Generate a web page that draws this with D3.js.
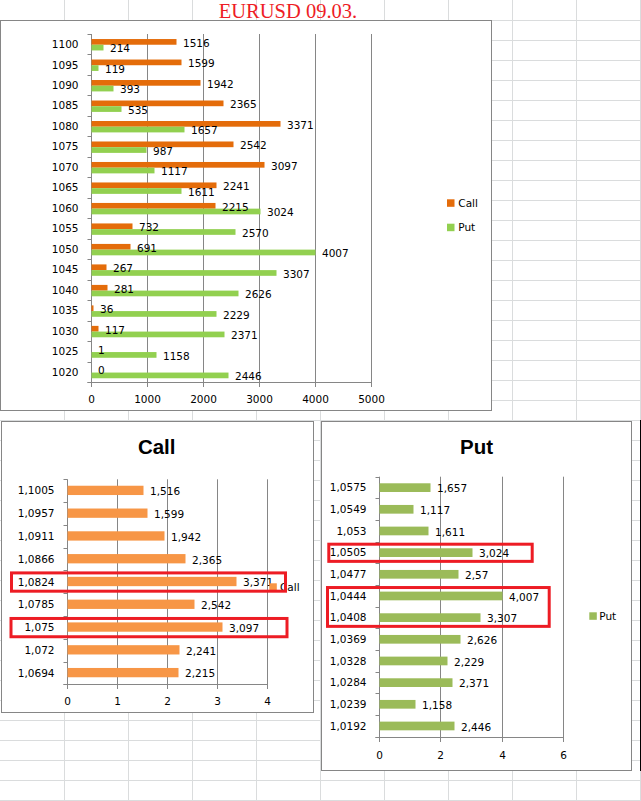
<!DOCTYPE html>
<html>
<head>
<meta charset="utf-8">
<script src="https://cdn.jsdelivr.net/npm/d3@7"></script>
<style>
  html, body { margin: 0; padding: 0; background: #fff; }
  svg { display: block; }
  text { font-family: "DejaVu Sans", Verdana, sans-serif; font-size: 10.5px; fill: #000; }
</style>
</head>
<body>
<svg id="sheet" width="641" height="801"></svg>
<script>
// top chart: open interest by strike
const strikes = ["1100", "1095", "1090", "1085", "1080", "1075", "1070", "1065", "1060",
                 "1055", "1050", "1045", "1040", "1035", "1030", "1025", "1020"];
const callOi = [1516, 1599, 1942, 2365, 3371, 2542, 3097, 2241, 2215, 732, 691, 267, 281, 36, 117, 1, 0];
const putOi  = [214, 119, 393, 535, 1657, 987, 1117, 1611, 3024, 2570, 4007, 3307, 2626, 2229, 2371, 1158, 2446];
const oiTicks = [0, 1000, 2000, 3000, 4000, 5000];

// bottom left: Call levels
const callLevels = ["1,1005", "1,0957", "1,0911", "1,0866", "1,0824", "1,0785", "1,075", "1,072", "1,0694"];
const callValues = [1.516, 1.599, 1.942, 2.365, 3.371, 2.542, 3.097, 2.241, 2.215];
const callTicks = [0, 1, 2, 3, 4];
const callMarked = [["1,0824", "1,0824"], ["1,075", "1,075"]];

// bottom right: Put levels
const putLevels = ["1,0575", "1,0549", "1,053", "1,0505", "1,0477", "1,0444", "1,0408",
                   "1,0369", "1,0328", "1,0284", "1,0239", "1,0192"];
const putValues = [1.657, 1.117, 1.611, 3.024, 2.57, 4.007, 3.307, 2.626, 2.229, 2.371, 1.158, 2.446];
const putTicks = [0, 2, 4, 6];
const putMarked = [["1,0505", "1,0505"], ["1,0444", "1,0408"]];

const W = 641, H = 801;
const GRID = "#868686";
const svg = d3.select("#sheet");

// excel cell grid in the background
const cells = svg.append("g");
d3.range(64, W, 64).forEach(x => {
  cells.append("line").attr("x1", x + 0.5).attr("x2", x + 0.5).attr("y1", 0).attr("y2", H)
    .attr("stroke", "#dadcdd");
});
d3.range(20, H, 20).forEach(y => {
  cells.append("line").attr("x1", 0).attr("x2", W).attr("y1", y + 0.5).attr("y2", y + 0.5)
    .attr("stroke", "#dadcdd");
});

svg.append("text")
  .attr("x", 288).attr("y", 17.7)
  .attr("text-anchor", "middle")
  .style("font-family", "'Liberation Serif', 'Times New Roman', serif")
  .style("font-size", "20.5px")
  .style("fill", "#ee1c25")
  .text("EURUSD 09.03.");

const commaFmt = v => String(v).replace(".", ",");

function drawChart(opt) {
  const g = svg.append("g");

  // chart frame
  g.append("rect")
    .attr("x", opt.frame[0] + 0.5).attr("y", opt.frame[1] + 0.5)
    .attr("width", opt.frame[2] - opt.frame[0]).attr("height", opt.frame[3] - opt.frame[1])
    .attr("fill", "#fff").attr("stroke", GRID);

  if (opt.title) {
    g.append("text")
      .attr("x", opt.title.x).attr("y", opt.title.y)
      .attr("text-anchor", "middle")
      .style("font-family", "'Liberation Sans', Arial, sans-serif")
      .style("font-size", "20.5px")
      .style("font-weight", "bold")
      .text(opt.title.text);
  }

  const x = d3.scaleLinear().domain([opt.ticks[0], opt.ticks[opt.ticks.length - 1]]).rangeRound(opt.xRange);
  const y = d3.scaleBand().domain(opt.cats).range(opt.yRange);
  const top = opt.yRange[0];
  const bottom = Math.round(opt.yRange[1]);
  const step = y.step();

  // vertical gridlines
  const gridG = g.append("g").attr("transform", `translate(0,${bottom})`)
    .call(d3.axisBottom(x).tickValues(opt.ticks).tickSize(-(bottom - top)).tickFormat(""));
  gridG.select(".domain").remove();
  gridG.selectAll("line").attr("stroke", GRID);

  // value axis
  const ax = g.append("g").attr("transform", `translate(0,${bottom})`)
    .call(d3.axisBottom(x).tickValues(opt.ticks).tickSize(5).tickSizeOuter(0).tickFormat(opt.tickFmt));
  ax.attr("font-family", null).attr("font-size", null);
  ax.select(".domain").attr("stroke", GRID);
  ax.selectAll("line").attr("stroke", GRID);
  ax.selectAll("text").attr("y", opt.tickLabelDy).attr("dy", "0.36em").attr("fill", "#000");

  // category axis: ticks on band boundaries
  const x0 = Math.round(x(0)) + 0.5;
  const bounds = opt.cats.map(c => y(c)).concat([y(opt.cats[opt.cats.length - 1]) + step]);
  bounds.forEach(b => {
    const yy = Math.round(b) + 0.5;
    g.append("line").attr("x1", x0 - 4).attr("x2", x0).attr("y1", yy).attr("y2", yy).attr("stroke", GRID);
  });
  g.append("line").attr("x1", x0 - 4).attr("x2", x0).attr("y1", bottom + 0.5).attr("y2", bottom + 0.5).attr("stroke", GRID);

  g.selectAll(".cat").data(opt.cats).enter().append("text")
    .attr("x", x(0) - 12.5)
    .attr("y", d => y(d) + step / 2)
    .attr("dy", "0.36em")
    .attr("text-anchor", "end")
    .text(d => d);

  // bars + labels
  const nS = opt.series.length;
  opt.series.forEach((s, k) => {
    const by = c => y(c) + step / 2 + opt.shift - nS * opt.barH / 2 + k * opt.barH;
    g.selectAll(null).data(opt.cats).enter().append("rect")
      .attr("x", x(0) + 0.5)
      .attr("y", c => by(c))
      .attr("width", (c, i) => Math.max(0, x(s.values[i]) - x(0)))
      .attr("height", opt.barH)
      .attr("fill", s.color);
  });
  opt.series.forEach((s, k) => {
    const by = c => y(c) + step / 2 + opt.shift - nS * opt.barH / 2 + k * opt.barH;
    g.selectAll(null).data(opt.cats).enter().append("text")
      .attr("x", (c, i) => x(s.values[i]) + 7)
      .attr("y", c => by(c) + opt.barH / 2 + 1)
      .attr("dy", "0.36em")
      .text((c, i) => opt.labelFmt(s.values[i]));
  });

  // legend
  opt.series.forEach((s, k) => {
    const ly = opt.legend.y + k * opt.legend.gap;
    g.append("rect").attr("x", opt.legend.x).attr("y", ly).attr("width", 7.5).attr("height", 7.5).attr("fill", s.color);
    g.append("text").attr("x", opt.legend.x + opt.legend.textDx).attr("y", ly + 3.75).attr("dy", "0.36em").text(s.name);
  });

  // red highlight boxes
  (opt.marks || []).forEach((m, i) => {
    const yTop = y(m[0]) + 2.5;
    const yBot = y(m[1]) + step - 2;
    const bx = opt.markX[i];
    g.append("rect")
      .attr("x", bx[0]).attr("y", yTop)
      .attr("width", bx[1] - bx[0]).attr("height", yBot - yTop)
      .attr("fill", "none").attr("stroke", "#ed1c24").attr("stroke-width", 3);
  });
}

drawChart({
  frame: [0, 20, 491, 410],
  cats: strikes,
  series: [
    { name: "Call", values: callOi, color: "#e46c0a" },
    { name: "Put", values: putOi, color: "#92d050" }
  ],
  ticks: oiTicks,
  xRange: [91, 371],
  yRange: [34, 382.3],
  barH: 5.7,
  shift: 0.5,
  tickFmt: d => d,
  tickLabelDy: 17.5,
  labelFmt: v => v,
  legend: { x: 447, y: 199.3, gap: 24.4, textDx: 11.3 }
});

drawChart({
  frame: [1, 421, 313, 712],
  title: { text: "Call", x: 156.7, y: 454 },
  cats: callLevels,
  series: [{ name: "Call", values: callValues, color: "#f79646" }],
  ticks: callTicks,
  xRange: [67, 267],
  yRange: [479.3, 684.3],
  barH: 9.3,
  shift: -0.3,
  tickFmt: d => d,
  tickLabelDy: 17.7,
  labelFmt: commaFmt,
  legend: { x: 269.3, y: 583.3, gap: 0, textDx: 10.7 },
  marks: callMarked,
  markX: [[11.5, 285.5], [11, 287]]
});

drawChart({
  frame: [321, 421, 631, 770],
  title: { text: "Put", x: 476.5, y: 454 },
  cats: putLevels,
  series: [{ name: "Put", values: putValues, color: "#9bbb59" }],
  ticks: putTicks,
  xRange: [379, 563],
  yRange: [476.7, 736.7],
  barH: 8.7,
  shift: 0.1,
  tickFmt: d => d,
  tickLabelDy: 18,
  labelFmt: commaFmt,
  legend: { x: 589.3, y: 612.3, gap: 0, textDx: 10 },
  marks: putMarked,
  markX: [[328.8, 532.2], [327.5, 549.2]]
});

// dark edge on the right side of the put chart
svg.append("line").attr("x1", 640.5).attr("x2", 640.5).attr("y1", 420).attr("y2", 771).attr("stroke", "#000");
</script>
</body>
</html>
